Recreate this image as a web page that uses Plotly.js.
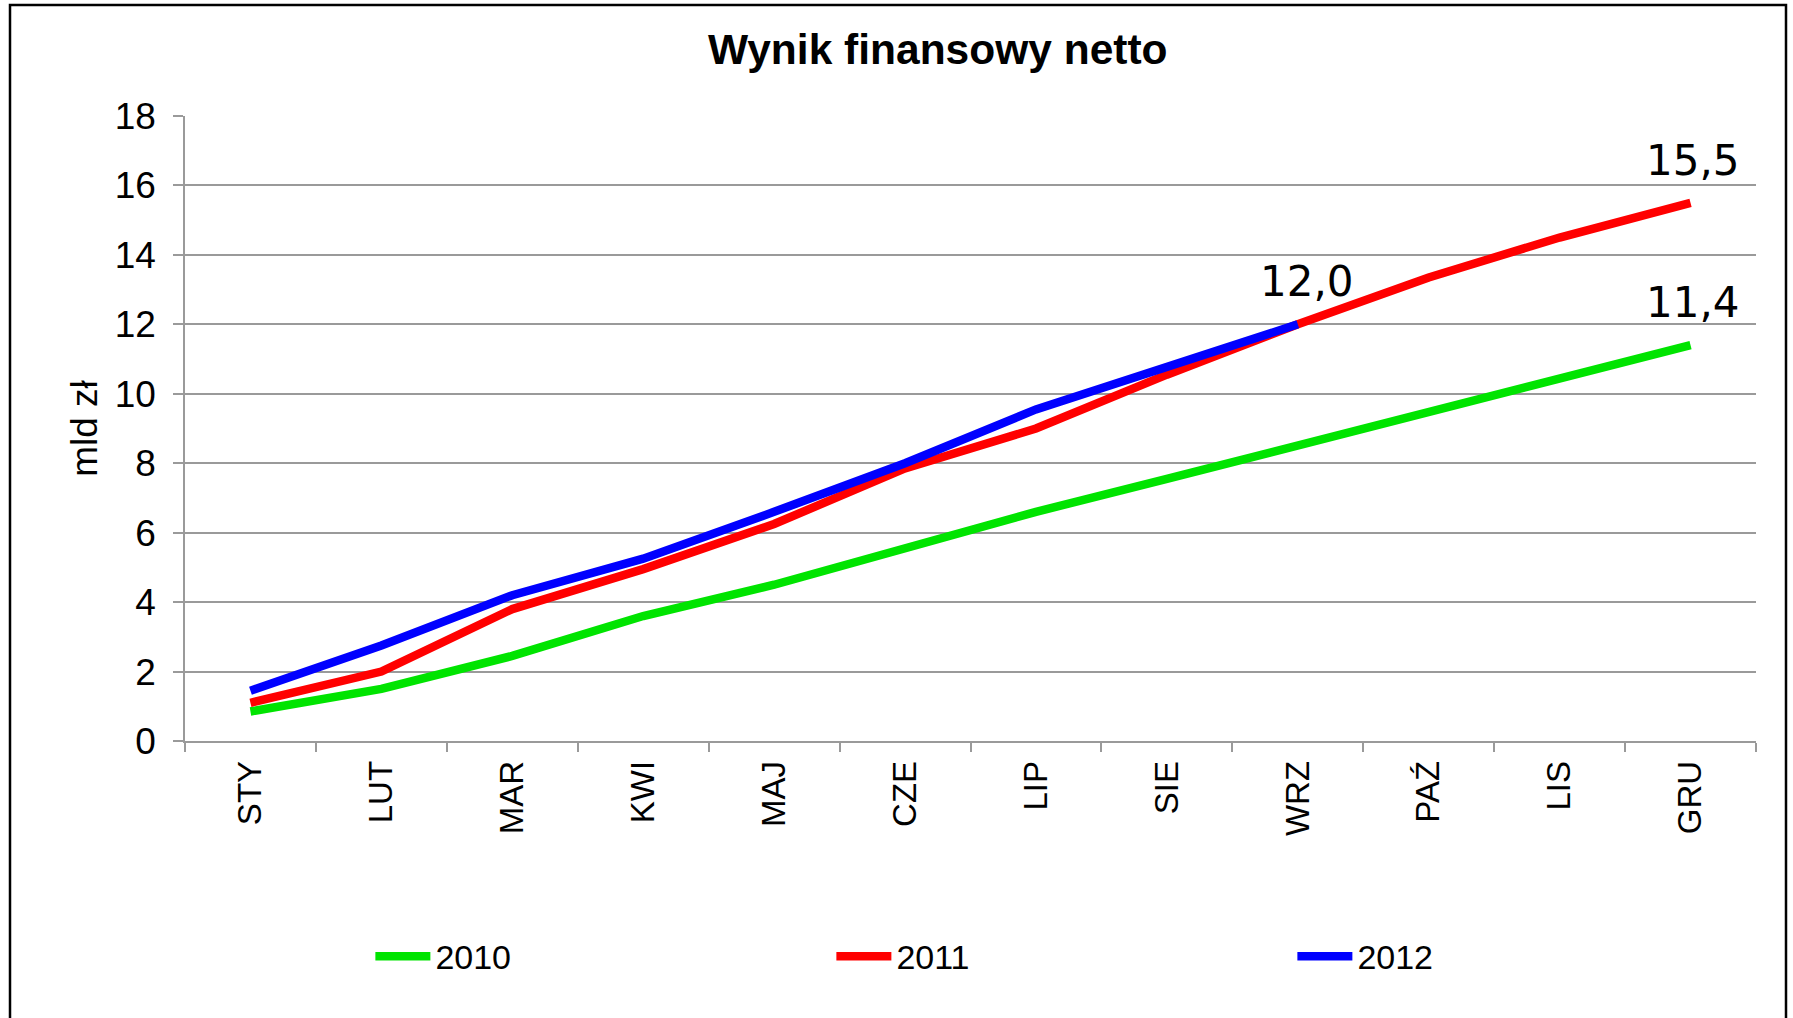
<!DOCTYPE html>
<html>
<head>
<meta charset="utf-8">
<script src="https://cdn.plot.ly/plotly-3.0.1.min.js"></script>
<style>
  html, body { margin: 0; padding: 0; background: #ffffff; }
  #chart { width: 1793px; height: 1018px; }
</style>
</head>
<body>
<div id="chart"></div>
<script>
// Data (mld zł, cumulative)
const months = ["STY", "LUT", "MAR", "KWI", "MAJ", "CZE", "LIP", "SIE", "WRZ", "PAŹ", "LIS", "GRU"];
const y2010 = [0.85, 1.5, 2.45, 3.6, 4.5, 5.55, 6.6, 7.55, 8.5, 9.45, 10.45, 11.4];
const y2011 = [1.1, 2.0, 3.8, 4.95, 6.25, 7.85, 9.0, 10.55, 12.0, 13.35, 14.5, 15.5];
const y2012 = [1.45, 2.75, 4.2, 5.25, 6.6, 8.0, 9.55, 10.8, 12.0, null, null, null];
const seriesNames = ["2010", "2011", "2012"];
const yTicks = [0, 2, 4, 6, 8, 10, 12, 14, 16, 18];
const valueLabels = [
  { month: "WRZ", value: 12.0, text: "12,0" },
  { month: "GRU", value: 15.5, text: "15,5" },
  { month: "GRU", value: 11.4, text: "11,4" }
];

const colors = ["#00e400", "#ff0000", "#0000ff"];
const allSeries = [y2010, y2011, y2012];

const traces = allSeries.map((ys, i) => ({
  type: "scatter",
  mode: "lines",
  x: months,
  y: ys,
  name: seriesNames[i],
  line: { color: colors[i], width: 8.5 },
  connectgaps: false,
  hoverinfo: "x+y+name"
}));

const annotations = valueLabels.map(l => ({
  x: l.month,
  y: l.value,
  xref: "x",
  yref: "y",
  text: l.text,
  showarrow: false,
  xanchor: "center",
  yanchor: "bottom",
  xshift: l.month === "WRZ" ? 9 : 2,
  yshift: 16,
  font: { family: "DejaVu Sans, Verdana, sans-serif", size: 42, color: "#000000" }
}));

const layout = {
  width: 1793,
  height: 1018,
  paper_bgcolor: "#ffffff",
  plot_bgcolor: "#ffffff",
  margin: { l: 185, r: 37, t: 116, b: 277, pad: 0, autoexpand: false },
  font: { family: "Liberation Sans, Arial, sans-serif", color: "#000000" },
  title: {
    text: "<b>Wynik finansowy netto</b>",
    font: { family: "Liberation Sans, Arial, sans-serif", size: 42.5, color: "#000000" },
    x: 0.523,
    xanchor: "center",
    xref: "container",
    y: 0.952,
    yanchor: "middle",
    yref: "container"
  },
  showlegend: true,
  legend: {
    orientation: "h",
    x: 0.118,
    xanchor: "left",
    xref: "paper",
    y: -0.345,
    yanchor: "middle",
    yref: "paper",
    entrywidth: 391,
    entrywidthmode: "pixels",
    itemwidth: 55,
    font: { family: "Liberation Sans, Arial, sans-serif", size: 34, color: "#000000" },
    bgcolor: "rgba(0,0,0,0)",
    traceorder: "normal"
  },
  xaxis: {
    type: "category",
    categoryorder: "array",
    categoryarray: months,
    range: [-0.5, 11.5],
    tickangle: -90,
    tickfont: { family: "Liberation Sans, Arial, sans-serif", size: 33, color: "#000000" },
    ticklabelstandoff: 5,
    ticks: "outside",
    tickson: "boundaries",
    ticklen: 9,
    tickwidth: 1.5,
    tickcolor: "#9a9a9a",
    showline: true,
    linecolor: "#9a9a9a",
    linewidth: 1.5,
    showgrid: false,
    zeroline: false,
    automargin: false,
    fixedrange: true
  },
  yaxis: {
    range: [0, 18],
    tickvals: yTicks,
    ticktext: yTicks.map(String),
    tickfont: { family: "Liberation Sans, Arial, sans-serif", size: 37, color: "#000000" },
    ticklabelstandoff: 10,
    ticks: "outside",
    ticklen: 10,
    tickwidth: 1.5,
    tickcolor: "#9a9a9a",
    showline: true,
    linecolor: "#9a9a9a",
    linewidth: 1.5,
    showgrid: true,
    gridcolor: "#9a9a9a",
    gridwidth: 1.5,
    zeroline: false,
    automargin: false,
    title: {
      text: "mld zł",
      font: { family: "Liberation Sans, Arial, sans-serif", size: 37, color: "#000000" },
      standoff: 6
    },
    fixedrange: true
  },
  annotations: annotations,
  shapes: [
    {
      type: "rect",
      xref: "paper",
      yref: "paper",
      x0: (10 - 185) / 1571,
      x1: (1786 - 185) / 1571,
      y0: (741 - 1030) / 625,
      y1: (741 - 5) / 625,
      line: { color: "#000000", width: 2.5 },
      fillcolor: "rgba(0,0,0,0)",
      layer: "above"
    }
  ]
};

Plotly.newPlot("chart", traces, layout, { displayModeBar: false, responsive: false });
</script>
</body>
</html>
